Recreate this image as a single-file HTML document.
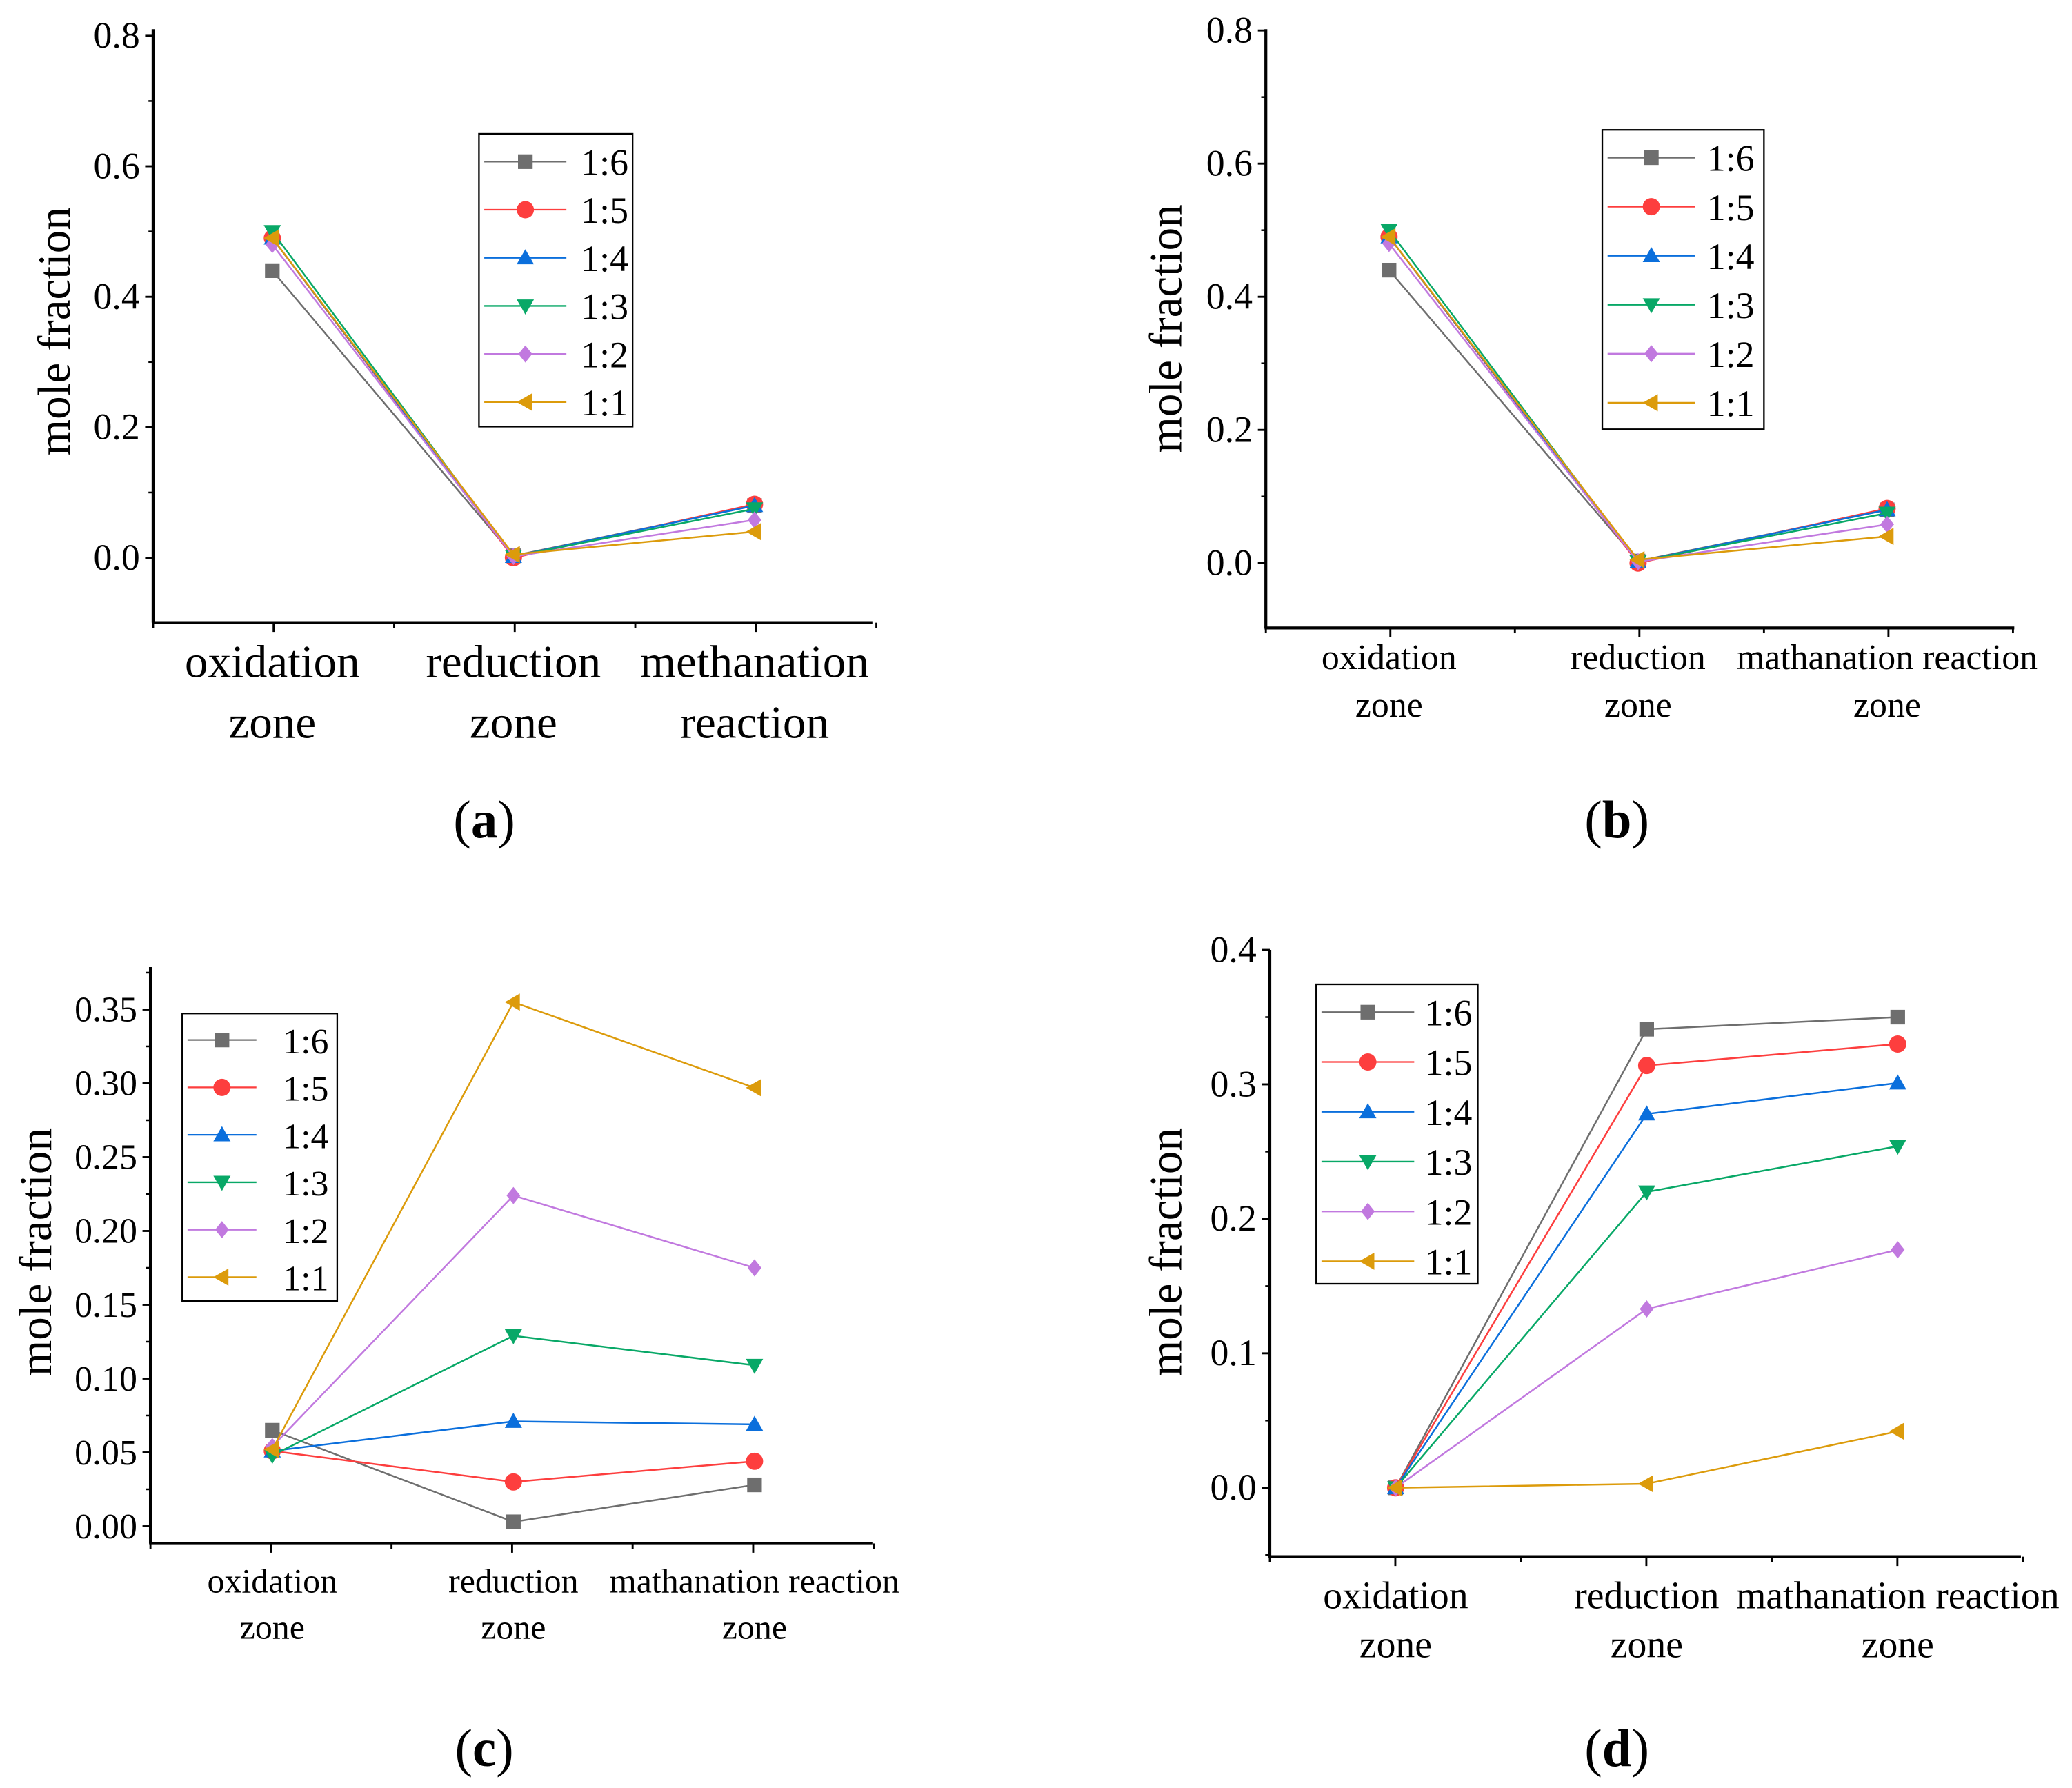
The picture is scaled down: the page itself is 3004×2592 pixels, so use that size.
<!DOCTYPE html>
<html><head><meta charset="utf-8"><style>
html,body{margin:0;padding:0;background:#fff;}
svg, svg text{font-family:"Liberation Serif","Times New Roman","DejaVu Serif",serif;}
</style></head><body>
<svg id="fig" xmlns="http://www.w3.org/2000/svg" width="3004" height="2587" viewBox="0 0 1563 1347"></svg>
<script>
const categoriesA = [["oxidation","zone"],["reduction","zone"],["methanation","reaction"]];
const categoriesB = [["oxidation","zone"],["reduction","zone"],["mathanation reaction","zone"]];
const seriesNames = ["1:6","1:5","1:4","1:3","1:2","1:1"];
const colors = ["#6e6e6e","#fd3e3e","#0b6fdc","#08a867","#c179df","#dc9b0b"];
const markers = ["square","circle","up","down","diamond","left"];
const valuesA = [[0.44,0.003,0.080],[0.49,0.000,0.082],[0.49,0.002,0.080],[0.50,0.002,0.075],[0.48,0.002,0.058],[0.49,0.005,0.040]];
const valuesB = [[0.44,0.003,0.080],[0.49,0.000,0.082],[0.49,0.002,0.080],[0.50,0.002,0.075],[0.48,0.002,0.058],[0.49,0.005,0.040]];
const valuesC = [[0.065,0.003,0.028],[0.051,0.030,0.044],[0.051,0.071,0.069],[0.048,0.129,0.109],[0.054,0.224,0.175],[0.052,0.355,0.297]];
const valuesD = [[0.0,0.341,0.350],[0.0,0.314,0.330],[0.0,0.278,0.301],[0.0,0.220,0.254],[0.0,0.133,0.177],[0.0,0.003,0.042]];
const ticksA = ["0.0","0.2","0.4","0.6","0.8"];
const ticksC = ["0.00","0.05","0.10","0.15","0.20","0.25","0.30","0.35"];
const ticksD = ["0.0","0.1","0.2","0.3","0.4"];

const NS="http://www.w3.org/2000/svg";
const svg=document.getElementById('fig');
function mk(tag,attrs,parent){const e=document.createElementNS(NS,tag);for(const k in attrs)e.setAttribute(k,attrs[k]);(parent||svg).appendChild(e);return e;}
function txt(s,attrs,parent){const e=mk('text',attrs,parent);e.textContent=s;return e;}
function marker(g,type,x,y,c,r){
  let e;
  if(type==='square')e=mk('rect',{x:x-r*0.85,y:y-r*0.85,width:r*1.7,height:r*1.7,fill:c},g);
  else if(type==='circle')e=mk('circle',{cx:x,cy:y,r:r,fill:c},g);
  else if(type==='up')e=mk('polygon',{points:`${x},${y-r} ${x-r},${y+r*0.75} ${x+r},${y+r*0.75}`,fill:c},g);
  else if(type==='down')e=mk('polygon',{points:`${x},${y+r} ${x-r},${y-r*0.75} ${x+r},${y-r*0.75}`,fill:c},g);
  else if(type==='diamond')e=mk('polygon',{points:`${x},${y-r} ${x+r*0.8},${y} ${x},${y+r} ${x-r*0.8},${y}`,fill:c},g);
  else e=mk('polygon',{points:`${x-r},${y} ${x+r*0.75},${y-r} ${x+r*0.75},${y+r}`,fill:c},g);
  return e;
}
function panel(p){
  const g=mk('g',{});
  
  
  const yS=v=>p.y0+(v-p.v0)*(p.y1-p.y0)/(p.v1-p.v0);
  const xS=i=>p.cx0+i*p.dx;
  const ya=mk('line',{x1:p.ax,y1:p.top,x2:p.ax,y2:p.bottom,stroke:'#000','stroke-width':2.2},g);
  
  const xa=mk('line',{x1:p.ax-1,y1:p.bottom,x2:p.right,y2:p.bottom,stroke:'#000','stroke-width':2.2},g);
  
  const step=parseFloat(p.ticks[1])-parseFloat(p.ticks[0]);
  p.ticks.forEach((t,i)=>{
    const v=parseFloat(t),y=yS(v);
    mk('line',{x1:p.ax-6,y1:y,x2:p.ax,y2:y,stroke:'#000','stroke-width':1.5},g);
    const mv=v+step/2, my=yS(mv);
    if(my>p.top)mk('line',{x1:p.ax-3.5,y1:my,x2:p.ax,y2:my,stroke:'#000','stroke-width':1.3},g);
    const lab=txt(t,{x:p.ax-10,y:y+9,'font-size':p.tf,'text-anchor':'end'},g);
    
  });
  const mneg=yS(parseFloat(p.ticks[0])-step/2);
  if(mneg<p.bottom)mk('line',{x1:p.ax-3.5,y1:mneg,x2:p.ax,y2:mneg,stroke:'#000','stroke-width':1.3},g);
  for(let k=0;k<=6;k++){
    const x=p.ax+k*p.dx/2; const major=k%2===1;
    mk('line',{x1:x,y1:p.bottom,x2:x,y2:p.bottom+(major?7:4),stroke:'#000','stroke-width':1.5},g);
  }
  p.cats.forEach((c,i)=>{
    c.forEach((s,j)=>{
      const e=txt(s,{x:xS(i),y:p.xly+j*p.xlh,'font-size':p.xf,'text-anchor':'middle'},g);
      
    });
  });
  const yt=txt('mole fraction',{x:0,y:0,'font-size':p.yf,'text-anchor':'middle',transform:`translate(${p.ytx},${p.yty}) rotate(-90)`},g);
  
  p.vals.forEach((vals,s)=>{
    const sg=mk('g',{},g);
    
    
    const pts=vals.map((v,i)=>`${xS(i)},${yS(v)}`).join(' ');
    mk('polyline',{points:pts,fill:'none',stroke:colors[s],'stroke-width':1.3},sg);
    vals.forEach((v,i)=>{
      const m=marker(sg,markers[s],xS(i),yS(v),colors[s],p.mr);
      
      
    });
  });
  const lg=mk('g',{},g);
  
  mk('rect',{x:p.lx,y:p.ly,width:p.lw,height:p.lh,fill:'#fff',stroke:'#000','stroke-width':1.2},lg);
  seriesNames.forEach((n,s)=>{
    const y=p.ly0+s*p.lstep;
    const le=mk('g',{},lg);
    
    mk('line',{x1:p.lx+4,y1:y,x2:p.lmx*2-p.lx-4,y2:y,stroke:colors[s],'stroke-width':1.2},le);
    marker(le,markers[s],p.lmx,y,colors[s],p.mr);
    txt(n,{x:p.ltx,y:y+10,'font-size':p.lf},le);
  });
  const pl=mk('text',{x:p.plx,y:p.ply,'font-size':40,'text-anchor':'middle'},g);
  
  pl.innerHTML='(<tspan font-weight="bold">'+p.id+'</tspan>)';
}
panel({id:'a',ax:115,top:22,bottom:470,right:658,cx0:205,dx:182,y0:421,y1:27,v0:0,v1:0.8,ticks:ticksA,tf:28,
  cats:categoriesA,xly:511,xlh:46,xf:35,yf:35,ytx:52,yty:250,vals:valuesA,mr:6.5,
  lx:361,ly:101,lw:116,lh:221,ly0:122,lstep:36.3,lmx:396,ltx:438,lf:28,plx:365,ply:632});
panel({id:'b',ax:955,top:22,bottom:474,right:1520,cx0:1048,dx:188,y0:425,y1:23,v0:0,v1:0.8,ticks:ticksA,tf:28,
  cats:categoriesB,xly:505,xlh:36,xf:27,yf:35,ytx:891,yty:248,vals:valuesB,mr:6.5,
  lx:1209,ly:98,lw:122,lh:226,ly0:119,lstep:37,lmx:1246,ltx:1288,lf:28,plx:1220,ply:632});
panel({id:'c',ax:113,top:730,bottom:1165,right:658,cx0:205,dx:182,y0:1152,y1:762,v0:0,v1:0.35,ticks:ticksC,tf:27,
  cats:categoriesB,xly:1202,xlh:35,xf:26,yf:35,ytx:38,yty:945,vals:valuesC,mr:6.5,
  lx:137,ly:765,lw:117,lh:217,ly0:785,lstep:35.8,lmx:167,ltx:213,lf:27,plx:365,ply:1333});
panel({id:'d',ax:958,top:717,bottom:1175,right:1525,cx0:1053,dx:189.5,y0:1123,y1:717,v0:0,v1:0.4,ticks:ticksD,tf:28,
  cats:categoriesB,xly:1214,xlh:37,xf:29,yf:35,ytx:891,yty:945,vals:valuesD,mr:6.5,
  lx:993,ly:743,lw:122,lh:226,ly0:764,lstep:37.6,lmx:1032,ltx:1075,lf:28,plx:1220,ply:1333});
</script>
</body></html>
